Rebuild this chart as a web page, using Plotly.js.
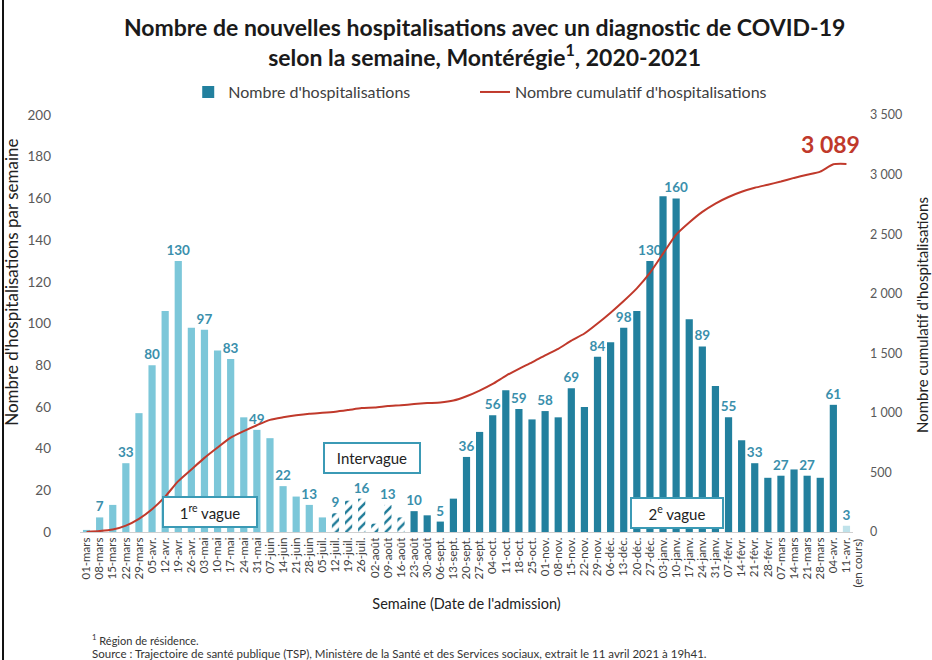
<!DOCTYPE html>
<html>
<head>
<meta charset="utf-8">
<script src="https://cdn.plot.ly/plotly-3.0.1.min.js"></script>
<style>
  html, body { margin: 0; padding: 0; background: #ffffff; }
  #chart { width: 932px; height: 660px; }
</style>
</head>
<body>
<div id="chart"></div>
<script>
// ---- Data ----
const weeks = ["01-mars","08-mars","15-mars","22-mars","29-mars","05-avr.","12-avr.","19-avr.","26-avr.","03-mai","10-mai","17-mai","24-mai","31-mai","07-juin","14-juin","21-juin","28-juin","05-juil.","12-juil.","19-juil.","26-juil.","02-août","09-août","16-août","23-août","30-août","06-sept.","13-sept.","20-sept.","27-sept.","04-oct.","11-oct.","18-oct.","25-oct.","01-nov.","08-nov.","15-nov.","22-nov.","29-nov.","06-déc.","13-déc.","20-déc.","27-déc.","03-janv.","10-janv.","17-janv.","24-janv.","31-janv.","07-févr.","14-févr.","21-févr.","28-févr.","07-mars","14-mars","21-mars","28-mars","04-avr.","11-avr."];

const hospitalisations = [1,7,13,33,57,80,106,130,98,97,87,83,55,49,45,22,17,13,7,9,15,16,4,13,7,10,8,5,16,36,48,56,68,59,54,58,55,69,60,84,91,98,106,130,161,160,102,89,70,55,44,33,26,27,30,27,26,61,3];

const cumulatif = [1,8,21,54,111,191,297,427,525,622,709,792,847,896,941,963,980,993,1000,1009,1024,1040,1044,1057,1064,1074,1082,1087,1103,1139,1187,1243,1311,1370,1424,1482,1537,1606,1666,1750,1841,1939,2045,2175,2336,2496,2598,2687,2757,2812,2856,2889,2915,2942,2972,2999,3025,3086,3089];

// periods (by week label)
const intervagueWeeks = ["12-juil.","19-juil.","26-juil.","02-août","09-août","16-août"];
const premiereVagueEnd = "05-juil.";      // last week of 1st wave
const semaineEnCours = "11-avr.";         // current (incomplete) week
const noteEnCours = "(en cours)";

// ---- Build traces ----
const iEndV1 = weeks.indexOf(premiereVagueEnd);
const iInterStart = weeks.indexOf(intervagueWeeks[0]);
const iInterEnd = weeks.indexOf(intervagueWeeks[intervagueWeeks.length - 1]);
const iEnCours = weeks.indexOf(semaineEnCours);

function labelFor(i) { return (i % 2 === 1 || i === weeks.length - 1) ? String(hospitalisations[i]) : ""; }
function slice(a, b) {
  const idx = [];
  for (let i = a; i <= b; i++) idx.push(i);
  return {
    x: idx.map(i => weeks[i]),
    y: idx.map(i => hospitalisations[i]),
    text: idx.map(labelFor)
  };
}

const FONT = "Lato, 'Open Sans', sans-serif";
const labelFont = {family: FONT, size: 13.5, color: "#3a8fac", weight: "bold"};
const common = {
  type: "bar", textposition: "outside", cliponaxis: false, constraintext: "none",
  textfont: labelFont, hoverinfo: "x+y", showlegend: false
};

const s1 = slice(0, iEndV1);
const sI = slice(iInterStart, iInterEnd);
const s2 = slice(iInterEnd + 1, iEnCours - 1);
const sC = slice(iEnCours, iEnCours);

const traces = [
  Object.assign({}, common, {x: s1.x, y: s1.y, text: s1.text, marker: {color: "#7cc7d9"}}),
  Object.assign({}, common, {x: sI.x, y: sI.y, text: sI.text,
    marker: {color: "#1f7b98", pattern: {shape: "/", size: 7, solidity: 0.35, bgcolor: "#ffffff", fillmode: "replace"}}}),
  Object.assign({}, common, {x: s2.x, y: s2.y, text: s2.text, marker: {color: "#22809e"},
    name: "Nombre d'hospitalisations", showlegend: true, legend: "legend"}),
  Object.assign({}, common, {x: sC.x, y: sC.y, text: sC.text, marker: {color: "#bfe2ea"}}),
  {
    type: "scatter", mode: "lines", x: weeks, y: cumulatif, yaxis: "y2",
    name: "Nombre cumulatif d'hospitalisations",
    line: {color: "#c0392b", width: 2, shape: "spline", smoothing: 0.6},
    showlegend: true, legend: "legend2", hoverinfo: "x+y"
  }
];

const boxStyle = {
  showarrow: false, bgcolor: "#ffffff", bordercolor: "#3b9ab5", borderwidth: 2,
  borderpad: 2, font: {family: FONT, size: 15, color: "#222222"},
  xref: "x", yref: "y", height: 24
};

const total = cumulatif[cumulatif.length - 1];
const totalTxt = String(total).replace(/\B(?=(\d{3})+(?!\d))/g, " ");

const legendCommon = {
  orientation: "h", xanchor: "left", y: 1.055, yanchor: "middle",
  font: {family: FONT, size: 16, color: "#404040"}, itemwidth: 30, bgcolor: "rgba(0,0,0,0)"
};

const layout = {
  width: 932, height: 660,
  paper_bgcolor: "#ffffff", plot_bgcolor: "#ffffff",
  font: {family: FONT, color: "#404040"},
  separators: ", ",
  margin: {l: 80, r: 79, t: 115, b: 128},
  barmode: "overlay", bargap: 0.45,
  title: {
    text: "<b>Nombre de nouvelles hospitalisations avec un diagnostic de COVID-19<br>selon la semaine, Montérégie<sup>1</sup>, 2020-2021</b>",
    font: {family: FONT, size: 23, color: "#1a1a1a"},
    x: 0.52, xanchor: "center", y: 0.946, yanchor: "middle", yref: "container"
  },
  legend: Object.assign({}, legendCommon, {x: 0.140}),
  legend2: Object.assign({}, legendCommon, {x: 0.511}),
  xaxis: {
    type: "category", categoryorder: "array", categoryarray: weeks,
    tickmode: "array", tickvals: weeks, ticktext: weeks,
    tickangle: -90, tickfont: {family: FONT, size: 11.5, color: "#404040"},
    showline: true, linecolor: "#d0d0d0", linewidth: 1, ticks: "", showgrid: false,
    range: [-0.5, weeks.length - 0.5], automargin: false,
    title: {text: "Semaine (Date de l'admission)", font: {family: FONT, size: 14.5, color: "#222222"}, standoff: 20}
  },
  yaxis: {
    range: [0, 200], dtick: 20, showgrid: false, zeroline: false, showline: false,
    ticks: "", tickfont: {family: FONT, size: 13.5, color: "#595959"},
    ticklabelstandoff: 28, automargin: false
  },
  yaxis2: {
    overlaying: "y", side: "right", range: [0, 3500], dtick: 500, tickformat: ",d",
    showgrid: false, zeroline: false, showline: false, ticks: "",
    tickfont: {family: FONT, size: 12.5, color: "#595959"},
    ticklabelstandoff: 16, automargin: false
  },
  annotations: [
    Object.assign({}, boxStyle, {text: "1<sup>re</sup> vague", x: 9.4, y: 9.6, width: 88}),
    Object.assign({}, boxStyle, {text: "Intervague", x: 21.8, y: 35.5, width: 90}),
    Object.assign({}, boxStyle, {text: "2<sup>e</sup> vague", x: 45.1, y: 9.1, width: 86}),
    {text: "<b>" + totalTxt + "</b>", x: weeks[weeks.length - 1], y: total, xref: "x", yref: "y2",
     showarrow: false, xshift: -16, yshift: 20, font: {family: FONT, size: 23, color: "#c0392b"}},
    {text: noteEnCours, x: semaineEnCours, xref: "x", y: 0, yref: "paper", yshift: -5,
     xshift: 11, yanchor: "top", xanchor: "center", textangle: -90, showarrow: false,
     font: {family: FONT, size: 11.5, color: "#404040"}},
    {text: "Nombre d'hospitalisations par semaine", xref: "paper", yref: "paper",
     x: -0.088, y: 0.60, textangle: -90, showarrow: false, xanchor: "center", yanchor: "middle",
     font: {family: FONT, size: 17, color: "#222222"}},
    {text: "Nombre cumulatif d'hospitalisations", xref: "paper", yref: "paper",
     x: 1.089, y: 0.52, textangle: -90, showarrow: false, xanchor: "center", yanchor: "middle",
     font: {family: FONT, size: 15, color: "#222222"}},
    {text: "<sup>1</sup> Région de résidence.", xref: "paper", yref: "paper", x: 0.013, y: -0.257,
     xanchor: "left", yanchor: "middle", showarrow: false, font: {family: FONT, size: 11, color: "#333333"}},
    {text: "Source : Trajectoire de santé publique (TSP), Ministère de la Santé et des Services sociaux, extrait le 11 avril 2021 à 19h41.",
     xref: "paper", yref: "paper", x: 0.013, y: -0.291, xanchor: "left", yanchor: "middle", showarrow: false,
     font: {family: FONT, size: 11.5, color: "#333333"}}
  ],
  shapes: [
    {type: "line", xref: "paper", yref: "paper", x0: -0.0996, x1: -0.0996, y0: -0.31, y1: 1.28,
     line: {color: "#111111", width: 2}}
  ]
};

Plotly.newPlot("chart", traces, layout, {displayModeBar: false, responsive: false});
</script>
</body>
</html>
